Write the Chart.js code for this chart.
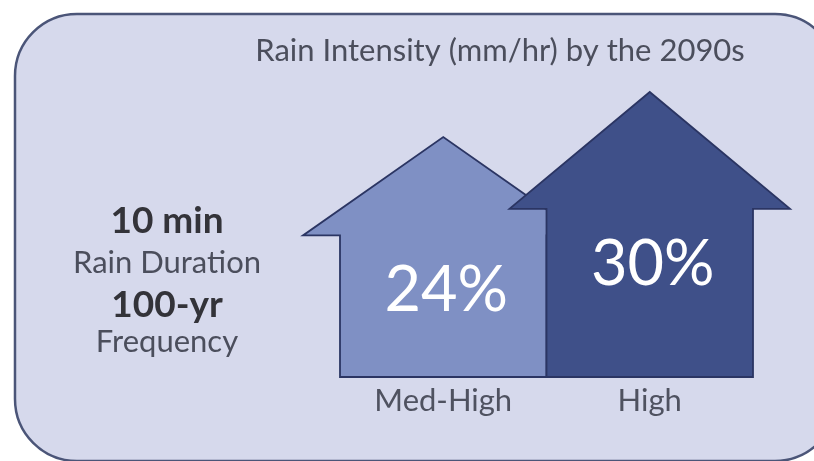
<!DOCTYPE html>
<html>
<head>
<meta charset="utf-8">
<script src="https://cdn.jsdelivr.net/npm/chart.js@4.4.1/dist/chart.umd.min.js"></script>
<style>
  html, body { margin: 0; padding: 0; background: #ffffff; }
  #wrap { width: 814px; height: 461px; position: relative; }
</style>
</head>
<body>
<div id="wrap"><canvas id="chart" width="814" height="461"></canvas></div>
<script>
// Scenario labels along the bottom and projected increase in rain intensity (%)
const scenarios = ['Med-High', 'High'];
const increasePct = [24, 30];
const arrowColors = ['#7f90c4', '#3f5089'];
const chartTitle = 'Rain Intensity (mm/hr) by the 2090s';
// Side note lines: [text, bold]
const noteLines = [
  ['10 min', true],
  ['Rain Duration', false],
  ['100-yr', true],
  ['Frequency', false]
];

const FONT = 'Lato, "Open Sans", sans-serif';

// Rounded panel behind everything
const panelPlugin = {
  id: 'panel',
  beforeDraw(chart) {
    const ctx = chart.ctx;
    ctx.save();
    ctx.fillStyle = '#ffffff';
    ctx.fillRect(0, 0, chart.width, chart.height);
    const x = 15, y = 14, w = 822, h = 447, r = 62;
    ctx.beginPath();
    ctx.roundRect(x, y, w, h, r);
    ctx.fillStyle = '#d6d9ec';
    ctx.fill();
    ctx.lineWidth = 2.5;
    ctx.strokeStyle = '#4b5578';
    ctx.stroke();
    ctx.restore();
  }
};

// Draws each bar as an upward arrow: tip at the value, shaft down to the base
const arrowPlugin = {
  id: 'arrows',
  afterDatasetsDraw(chart) {
    const ctx = chart.ctx;
    const meta = chart.getDatasetMeta(0);
    ctx.save();
    meta.data.forEach((bar, i) => {
      const tip = bar.y, base = bar.base;
      const half = bar.width / 2;
      const headBase = tip + 0.41 * (base - tip);
      const wing = 37;
      ctx.beginPath();
      ctx.moveTo(bar.x - half, base);
      ctx.lineTo(bar.x - half, headBase);
      ctx.lineTo(bar.x - half - wing, headBase);
      ctx.lineTo(bar.x, tip);
      ctx.lineTo(bar.x + half + wing, headBase);
      ctx.lineTo(bar.x + half, headBase);
      ctx.lineTo(bar.x + half, base);
      ctx.closePath();
      ctx.fillStyle = arrowColors[i];
      ctx.fill();
      ctx.lineWidth = 1.8;
      ctx.lineJoin = 'miter';
      ctx.strokeStyle = '#2b3563';
      ctx.stroke();

      // value label inside the shaft
      ctx.fillStyle = '#ffffff';
      ctx.font = '63px ' + FONT;
      ctx.textAlign = 'center';
      ctx.textBaseline = 'alphabetic';
      ctx.fillText(increasePct[i] + '%', bar.x + 3, headBase + 76);
    });
    ctx.restore();
  }
};

// Title and side note
const textPlugin = {
  id: 'texts',
  afterDraw(chart) {
    const ctx = chart.ctx;
    ctx.save();
    ctx.textAlign = 'center';
    ctx.textBaseline = 'alphabetic';
    ctx.fillStyle = '#4b4e5c';
    ctx.font = '31px ' + FONT;
    ctx.fillText(chartTitle, 500, 61);

    const baselines = [233, 273, 317, 352];
    noteLines.forEach((ln, i) => {
      ctx.font = (ln[1] ? 'bold 37px ' : '31px ') + FONT;
      ctx.fillStyle = ln[1] ? '#333339' : '#4b4e5c';
      ctx.fillText(ln[0], 167, baselines[i]);
    });
    ctx.restore();
  }
};

new Chart(document.getElementById('chart'), {
  type: 'bar',
  data: {
    labels: scenarios,
    datasets: [{
      data: increasePct,
      base: -8,
      backgroundColor: 'rgba(0,0,0,0)',
      borderWidth: 0,
      categoryPercentage: 1,
      barPercentage: 1
    }]
  },
  options: {
    responsive: false,
    animation: false,
    devicePixelRatio: 1,
    layout: { padding: { left: 340, right: 61, top: 92, bottom: 0 } },
    plugins: {
      legend: { display: false },
      tooltip: { enabled: false },
      title: { display: false }
    },
    scales: {
      x: {
        grid: { display: false, drawTicks: false },
        border: { display: false },
        afterFit(scale) { scale.height = 84; },
        ticks: {
          color: '#4f5260',
          font: { family: FONT, size: 31 },
          padding: 5
        }
      },
      y: {
        display: false,
        min: -8,
        max: 30
      }
    }
  },
  plugins: [panelPlugin, arrowPlugin, textPlugin]
});
</script>
</body>
</html>
